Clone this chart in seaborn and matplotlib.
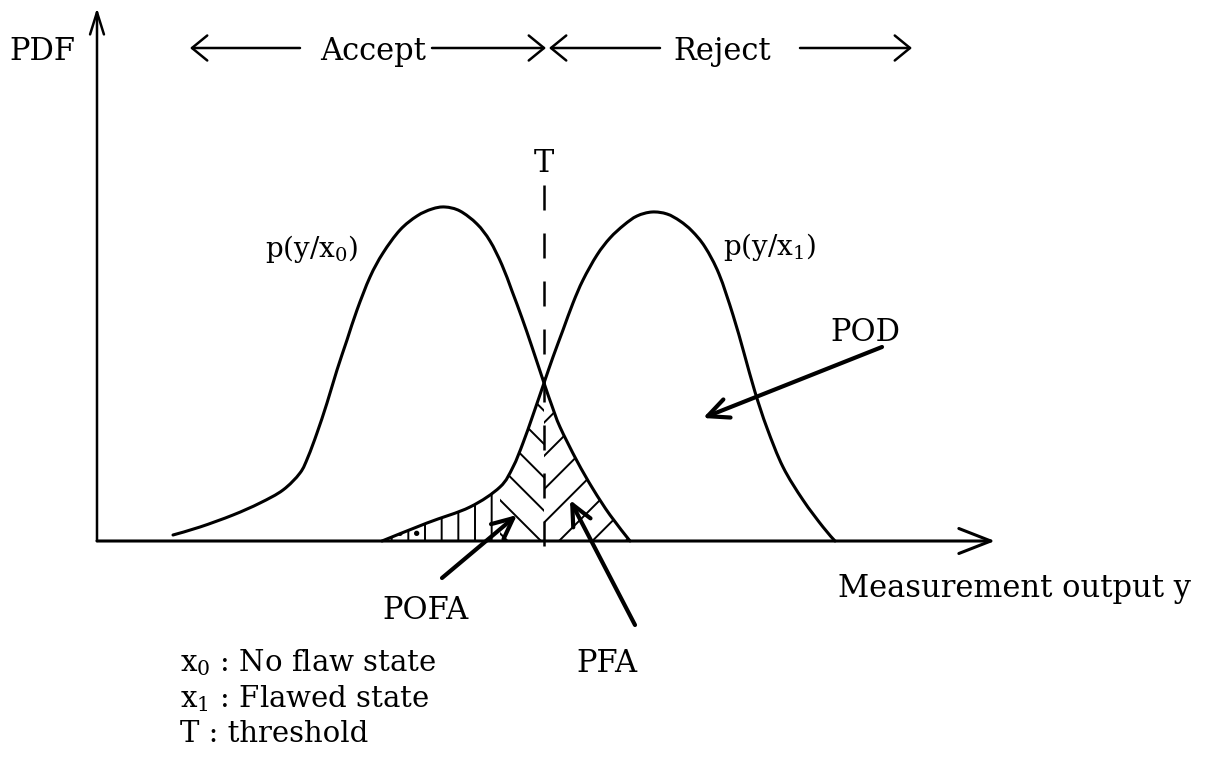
import numpy as np
import pandas as pd
import matplotlib
matplotlib.use("Agg")
import matplotlib.pyplot as plt
from matplotlib.path import Path
from matplotlib.patches import PathPatch
import seaborn as sns

# Measurement output y (arbitrary units) and density height for the no-flaw state x0
y_x0 = [0.76, 1.03, 1.36, 1.63, 1.86, 2.03, 2.11, 2.20, 2.30, 2.40, 2.50, 2.60,
        2.73, 2.86, 3.03, 3.20, 3.35, 3.48, 3.63, 3.80, 3.93, 4.05, 4.15, 4.25,
        4.35, 4.47, 4.55, 4.63, 4.80, 4.96, 5.13, 5.33]
pdf_x0 = [0.06, 0.14, 0.26, 0.38, 0.51, 0.68, 0.84, 1.08, 1.38, 1.71, 2.01, 2.31,
          2.64, 2.88, 3.11, 3.25, 3.32, 3.34, 3.30, 3.17, 3.00, 2.76, 2.50, 2.23,
          1.94, 1.58, 1.35, 1.14, 0.80, 0.52, 0.26, 0.00]

# Measurement output y and density height for the flawed state x1
y_x1 = [2.85, 3.30, 3.73, 4.03, 4.16, 4.26, 4.36, 4.47, 4.56, 4.66, 4.76, 4.86,
        5.00, 5.13, 5.27, 5.40, 5.55, 5.70, 5.83, 5.95, 6.08, 6.22, 6.36, 6.47,
        6.58, 6.70, 6.86, 7.06, 7.26, 7.38]
pdf_x1 = [0.00, 0.18, 0.34, 0.54, 0.74, 0.98, 1.26, 1.58, 1.84, 2.11, 2.38, 2.61,
          2.86, 3.03, 3.16, 3.25, 3.29, 3.27, 3.20, 3.10, 2.94, 2.67, 2.26, 1.88,
          1.49, 1.13, 0.74, 0.41, 0.14, 0.00]

# Decision threshold T
threshold = 4.47

curve_labels = ["p(y/x$_0$)", "p(y/x$_1$)"]
legend_lines = ["x$_0$ : No flaw state", "x$_1$ : Flawed state", "T : threshold"]

sns.set_theme(style="white")
plt.rcParams["font.family"] = ["DejaVu Serif"]
plt.rcParams["mathtext.fontset"] = "dejavuserif"
plt.rcParams["mathtext.default"] = "regular"
plt.rcParams["text.color"] = "black"
plt.rcParams["hatch.linewidth"] = 1.4
plt.rcParams["hatch.color"] = "black"


def smooth_path(xs, ys):
    """Catmull-Rom curve through the given points, as cubic Bezier segments."""
    pts = np.column_stack([xs, ys]).astype(float)
    n = len(pts)
    verts, codes = [pts[0]], [Path.MOVETO]
    for i in range(n - 1):
        p0 = pts[i - 1] if i > 0 else pts[i]
        p1, p2 = pts[i], pts[i + 1]
        p3 = pts[i + 2] if i + 2 < n else pts[i + 1]
        verts += [p1 + (p2 - p0) / 6, p2 - (p3 - p1) / 6, p2]
        codes += [Path.CURVE4] * 3
    return Path(verts, codes)


fig = plt.figure(figsize=(12.05, 7.72), dpi=100)
ax = fig.add_axes([0, 0, 1, 1])
ax.set_xlim(-0.97, 11.08)
ax.set_ylim(-2.31, 5.41)
ax.axis("off")

# Density curves
for xs, ps in [(y_x0, pdf_x0), (y_x1, pdf_x1)]:
    ax.add_patch(PathPatch(smooth_path(xs, ps), facecolor="none",
                           edgecolor="black", lw=2.2, joinstyle="round",
                           capstyle="round", transform=ax.transData))

# Hatched tail areas on either side of the threshold
x0a, p0a = np.array(y_x0), np.array(pdf_x0)
x1a, p1a = np.array(y_x1), np.array(pdf_x1)
split = 4.03
for mask, hatch in [(x1a <= split, "|"), ((x1a >= split) & (x1a <= threshold), "\\"),
                    (x1a <= 3.30, ".")]:
    ax.fill_between(x1a[mask], p1a[mask], 0, facecolor="none",
                    edgecolor="black", linewidth=0, hatch=hatch)
m0 = x0a >= threshold
ax.fill_between(x0a[m0], p0a[m0], 0, facecolor="none", edgecolor="black",
                linewidth=0, hatch="/")

# Threshold line
sns.lineplot(x=[threshold, threshold], y=[3.56, -0.12], sort=False,
             estimator=None, color="black", lw=1.8, ls=(0, (10, 9.2)), ax=ax)
ax.text(threshold, 3.81, "T", ha="center", va="center_baseline", fontsize=22)

# Coordinate axes with arrow heads
ax.annotate("", xy=(8.98, 0), xytext=(0, 0),
            arrowprops=dict(arrowstyle="->,head_length=1.15,head_width=0.45",
                            lw=2.2, color="black", shrinkA=0, shrinkB=0,
                            mutation_scale=20))
ax.annotate("", xy=(0, 5.33), xytext=(0, 0),
            arrowprops=dict(arrowstyle="->,head_length=0.8,head_width=0.25",
                            lw=1.8, color="black", shrinkA=0, shrinkB=0,
                            mutation_scale=20))
ax.text(-0.55, 4.93, "PDF", ha="center", va="center_baseline", fontsize=22)
ax.text(7.41, -0.44, "Measurement output y", ha="left", va="center_baseline",
        fontsize=22)

# Accept / Reject regions
head = "->,head_length=0.55,head_width=0.45"
for tail, tip in [(2.03, 0.93), (3.35, 4.49), (5.63, 4.52), (7.03, 8.15)]:
    ax.annotate("", xy=(tip, 4.93), xytext=(tail, 4.93),
                arrowprops=dict(arrowstyle=head, lw=1.8, color="black",
                                shrinkA=0, shrinkB=0, mutation_scale=20))
ax.text(2.76, 4.93, "Accept", ha="center", va="center_baseline", fontsize=22)
ax.text(6.25, 4.93, "Reject", ha="center", va="center_baseline", fontsize=22)

# Curve labels
ax.text(2.15, 2.96, curve_labels[0], ha="center", va="center_baseline", fontsize=20)
ax.text(6.73, 2.98, curve_labels[1], ha="center", va="center_baseline", fontsize=20)

# Pointers to the probability areas
ptr = "->,head_length=0.75,head_width=0.35"
for text, txy, tail, tip in [("POD", (7.68, 2.12), (7.85, 1.94), (6.06, 1.23)),
                             ("POFA", (3.29, -0.66), (3.45, -0.37), (4.20, 0.26)),
                             ("PFA", (5.10, -1.19), (5.38, -0.84), (4.73, 0.41))]:
    ax.annotate("", xy=tip, xytext=tail,
                arrowprops=dict(arrowstyle=ptr, lw=3, color="black",
                                shrinkA=0, shrinkB=0, mutation_scale=20))
    ax.text(*txy, text, ha="center", va="center_baseline", fontsize=22)

# Symbol key
for i, line in enumerate(legend_lines):
    ax.text(0.83, -1.18 - 0.36 * i, line, ha="left", va="center_baseline",
            fontsize=21)

fig.savefig("out.png", dpi=100, facecolor="white")
